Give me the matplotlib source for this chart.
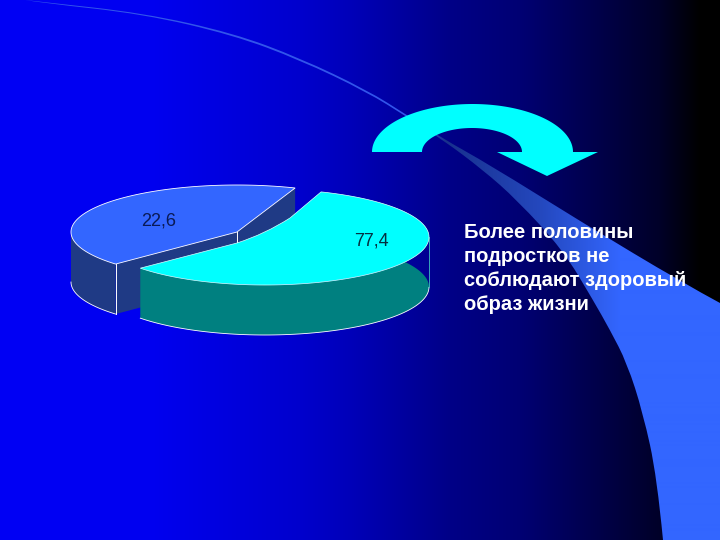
# plot.py - slide with 3D pie, curved arrow and swoosh
import numpy as np
import matplotlib.pyplot as plt
from matplotlib.path import Path
from matplotlib.patches import PathPatch, Polygon

# values shown on the slide
labels = ['22,6', '77,4']
text_lines = ['Более половины', 'подростков не', 'соблюдают здоровый', 'образ жизни']

# slice limits (ellipse angles, degrees), drawn distorted in the original
blue_angles = [69.5, 223.0]
cyan_angles = [70.0, -139.5]

# background gradient stops
grad_x = [0, 150, 300, 350, 450, 520, 660, 700, 720]
grad_b = [245, 240, 205, 185, 135, 115, 40, 0, 0]

# swoosh edges
swoosh_top = [(25, 0), (43, 2), (143, 13), (233, 33), (300, 58), (367, 90), (407, 115),
              (440, 137), (490, 165), (583, 223), (683, 283), (720, 303)]
swoosh_low = [(663, 540), (657, 477), (643, 413), (627, 363), (610, 330), (593, 300), (563, 250),
              (517, 200), (483, 170), (443, 140), (407, 117), (367, 92), (300, 60),
              (233, 35), (143, 14), (43, 3), (25, 0)]


def ellipse_arc(cx, cy, a, b, t0, t1, dy=0, n=120):
    t = np.radians(np.linspace(t0, t1, n))
    return np.column_stack([cx + a * np.cos(t), cy - b * np.sin(t) + dy])


def smooth_verts(points):
    # quadratic pieces through the midpoints of the read points
    pts = np.array(points, dtype=float)
    verts = [pts[0]]
    codes = [Path.MOVETO]
    for i in range(1, len(pts) - 1):
        mid = (pts[i] + pts[i + 1]) / 2 if i < len(pts) - 2 else pts[i + 1]
        verts += [pts[i], mid]
        codes += [Path.CURVE3, Path.CURVE3]
    return verts, codes


fig = plt.figure(figsize=(7.2, 5.4), dpi=100)
ax = fig.add_axes([0, 0, 1, 1])

# background
xx = np.arange(720)
row = np.zeros((1, 720, 3))
row[0, :, 2] = np.interp(xx, grad_x, grad_b) / 255
ax.imshow(row, extent=[0, 720, 540, 0], aspect='auto', zorder=0, interpolation='bilinear')

# swoosh, gradient clipped to its outline
v1, c1 = smooth_verts(swoosh_top)
v2, c2 = smooth_verts(swoosh_low)
verts = v1 + [(720, 540)] + v2
codes = c1 + [Path.LINETO] + [Path.LINETO] + c2[1:]
swoosh_path = Path(verts, codes)
sw = np.zeros((1, 720, 3))
sw_stops = [0, 415, 445, 540, 620, 720]
sw[0, :, 0] = np.interp(xx, sw_stops, [50, 50, 24, 36, 51, 51]) / 255
sw[0, :, 1] = np.interp(xx, sw_stops, [85, 85, 48, 72, 102, 102]) / 255
sw[0, :, 2] = np.interp(xx, sw_stops, [235, 235, 140, 190, 255, 255]) / 255
im = ax.imshow(sw, extent=[0, 720, 540, 0], aspect='auto', zorder=1, interpolation='bilinear')
im.set_clip_path(PathPatch(swoosh_path, transform=ax.transData))

# blue slice
bx, by, ba, bb = 237, 232, 166, 47
depth = 50
navy = '#1f3a85'
top_arc = ellipse_arc(bx, by, ba, bb, blue_angles[0], blue_angles[1])
wall_arc = ellipse_arc(bx, by, ba, bb, 180, blue_angles[1])
wall_low = ellipse_arc(bx, by, ba, bb, blue_angles[1], 180, dy=depth)
ax.add_patch(Polygon(np.vstack([wall_arc, wall_low]), fc=navy, ec='none', zorder=2))
p0, p1 = top_arc[0], top_arc[-1]
ax.add_patch(Polygon([(bx, by), tuple(p1), (p1[0], p1[1] + depth), (bx, by + depth)],
                     fc=navy, ec='none', zorder=2))
ax.add_patch(Polygon([(bx, by), tuple(p0), (p0[0], p0[1] + depth), (bx, by + depth)],
                     fc=navy, ec='none', zorder=2))
ax.add_patch(Polygon(np.vstack([[(bx, by)], top_arc]), fc='#3366ff', ec='white', lw=0.6, zorder=3))
ax.plot(wall_low[:, 0], wall_low[:, 1], color='white', lw=0.6, zorder=3)
ax.plot([p1[0], p1[0]], [p1[1], p1[1] + depth], color='white', lw=0.7, zorder=3)
ax.plot([bx, bx], [by, by + 11], color='white', lw=0.7, zorder=3)

# cyan slice
cx, cy, ca, cb = 265, 237, 164, 48
arc = ellipse_arc(cx, cy, ca, cb, cyan_angles[0], cyan_angles[1])
arc_low = ellipse_arc(cx, cy, ca, cb, cyan_angles[1], cyan_angles[0], dy=depth)
ax.add_patch(Polygon(np.vstack([arc, arc_low]), fc='#008080', ec='none', zorder=4))
low_visible = arc_low[arc_low[:, 1] > cy + depth - 1]
ax.plot(low_visible[:, 0], low_visible[:, 1], color='white', lw=0.6, zorder=5)
ax.plot([cx + ca, cx + ca], [cy, cy + depth], color='#40c0c0', lw=0.6, zorder=5)
top_verts = [tuple(q) for q in arc] + [(237, 243), (265, 234), (290, 218), tuple(arc[0])]
top_codes = [Path.MOVETO] + [Path.LINETO] * (len(arc) - 1) + [Path.LINETO, Path.CURVE3, Path.CURVE3, Path.LINETO]
ax.add_patch(PathPatch(Path(top_verts, top_codes), fc='#00ffff', ec='#d8ffff', lw=0.5, zorder=6))

# curved arrow
outer = ellipse_arc(472.5, 152, 100.5, 48, 180, 0)
inner = ellipse_arc(472, 152, 50, 24, 0, 180)
arrow = np.vstack([outer, [(598, 152), (547, 176), (497, 152)], inner])
ax.add_patch(Polygon(arrow, fc='#00ffff', ec='none', zorder=7))

# texts
ax.text(159, 221, labels[0], color='#0a1a55', fontsize=13, family='Liberation Sans',
        ha='center', va='center', zorder=8)
ax.text(371, 241, labels[1], color='#053040', fontsize=13, family='Liberation Sans',
        ha='center', va='center', zorder=8)
for line, y in zip(text_lines, [232, 257, 281, 305]):
    ax.text(464, y, line, color='white', fontsize=14.5, fontweight='bold', family='Liberation Sans',
            ha='left', va='center', zorder=8)

ax.set_xlim(0, 720)
ax.set_ylim(540, 0)
ax.axis('off')
fig.savefig('out.png', dpi=100)
